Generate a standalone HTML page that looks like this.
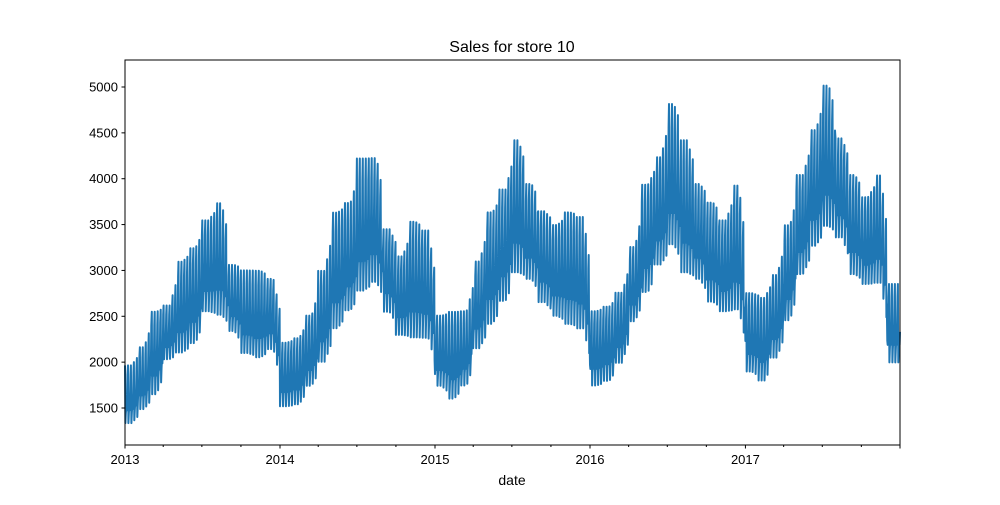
<!DOCTYPE html>
<html><head><meta charset="utf-8"><style>
body{margin:0;background:#fff}
svg text{font-family:"Liberation Sans",sans-serif;fill:#000}
</style></head><body>
<svg id="chart" width="1000" height="500">
<rect width="1000" height="500" fill="#fff"/>
<text x="512" y="52" font-size="16" text-anchor="middle">Sales for store 10</text>
<g id="series"></g>
<g id="axes"></g>
<text x="512" y="485" font-size="14" text-anchor="middle">date</text>
</svg>
<script>
const years = [2013, 2014, 2015, 2016, 2017];
const yTicks = [1500, 2000, 2500, 3000, 3500, 4000, 4500, 5000];
const monthlyMin = [1300,1450,1600,2000,2050,2150,2500,2450,2300,2050,2000,2100,
 1480,1500,1700,1950,2300,2500,2700,2800,2500,2250,2200,2200,
 1700,1550,1700,2100,2350,2600,2900,2850,2600,2450,2350,2300,
 1700,1750,1950,2400,2700,3000,3200,2900,2850,2600,2500,2500,
 1850,1750,2000,2400,2900,3200,3400,3300,2900,2800,2800,1950];
const monthlyMax = [2000,2200,2600,2650,3150,3300,3600,3800,3100,3050,3050,2950,
 2250,2300,2550,3050,3700,3800,4300,4300,3500,3200,3600,3500,
 2550,2600,2600,3150,3700,3950,4500,4000,3700,3550,3700,3650,
 2600,2650,2800,3300,4000,4300,4900,4500,4000,3800,3600,4000,
 2800,2750,3000,3550,4100,4600,5100,4500,4100,3850,4100,2900];
const L=125,R=900,T=60,B=445;
const x0=new Date(2013,0,1).getTime(), x1=new Date(2017,11,31).getTime();
function xs(t){return L+(t-x0)/(x1-x0)*(R-L);}
function ys(v){return 408-(v-1500)*(321/3500);}
const ns="http://www.w3.org/2000/svg";
const axes=document.getElementById('axes');
function line(a,b,c,d,parent){const l=document.createElementNS(ns,'line');
l.setAttribute('x1',a);l.setAttribute('y1',b);l.setAttribute('x2',c);l.setAttribute('y2',d);
l.setAttribute('stroke','#000');l.setAttribute('stroke-width','1');parent.appendChild(l);return l;}
let pts=[];
const day=86400000;
for(let t=x0;t<=x1;t+=day){
  const d=new Date(t);const m=(d.getFullYear()-2013)*12+d.getMonth();
  const dim=new Date(d.getFullYear(),d.getMonth()+1,0).getDate();
  const fr=(d.getDate()-1)/dim; 
  const m2=Math.min(m+1,monthlyMin.length-1);
  const w=fr<0.5?0:(fr-0.5);
  const lo=monthlyMin[m]*(1-w)+monthlyMin[m2]*w, hi=monthlyMax[m]*(1-w)+monthlyMax[m2]*w;
  const dw=Math.round((t-x0)/day)%7;
  const f=[0.95,0.05,0.2,0.3,0.25,0.4,0.8][dw];
  pts.push(xs(t).toFixed(1)+','+ys(lo+(hi-lo)*f).toFixed(1));
}
const pl=document.createElementNS(ns,'polyline');
pl.setAttribute('points',pts.join(' '));pl.setAttribute('fill','none');
pl.setAttribute('stroke','#1f77b4');pl.setAttribute('stroke-width','2');
pl.setAttribute('stroke-linejoin','round');


document.getElementById('series').appendChild(pl);
const frm=document.createElementNS(ns,'rect');
frm.setAttribute('x',L);frm.setAttribute('y',T);frm.setAttribute('width',R-L);frm.setAttribute('height',B-T);
frm.setAttribute('fill','none');frm.setAttribute('stroke','#000');


axes.appendChild(frm);
yTicks.forEach(v=>{const y=ys(v);line(L-3.5,y,L,y,axes);
 const tx=document.createElementNS(ns,'text');tx.setAttribute('x',L-7);tx.setAttribute('y',y+4.5);
 tx.setAttribute('font-size','13');tx.setAttribute('text-anchor','end');tx.textContent=v;
 
 
 axes.appendChild(tx);});
years.forEach(yr=>{const x=xs(new Date(yr,0,1).getTime());line(x,B,x,B+3.5,axes);
 const tx=document.createElementNS(ns,'text');tx.setAttribute('x',x);tx.setAttribute('y',B+19);
 tx.setAttribute('font-size','13');tx.setAttribute('text-anchor','middle');tx.textContent=yr;
 
 
 axes.appendChild(tx);
 [3,6,9].forEach(mo=>{const xm=xs(new Date(yr,mo,1).getTime());line(xm,B,xm,B+2,axes);});
});
line(R,B,R,B+3.5,axes);
</script>
</body></html>
